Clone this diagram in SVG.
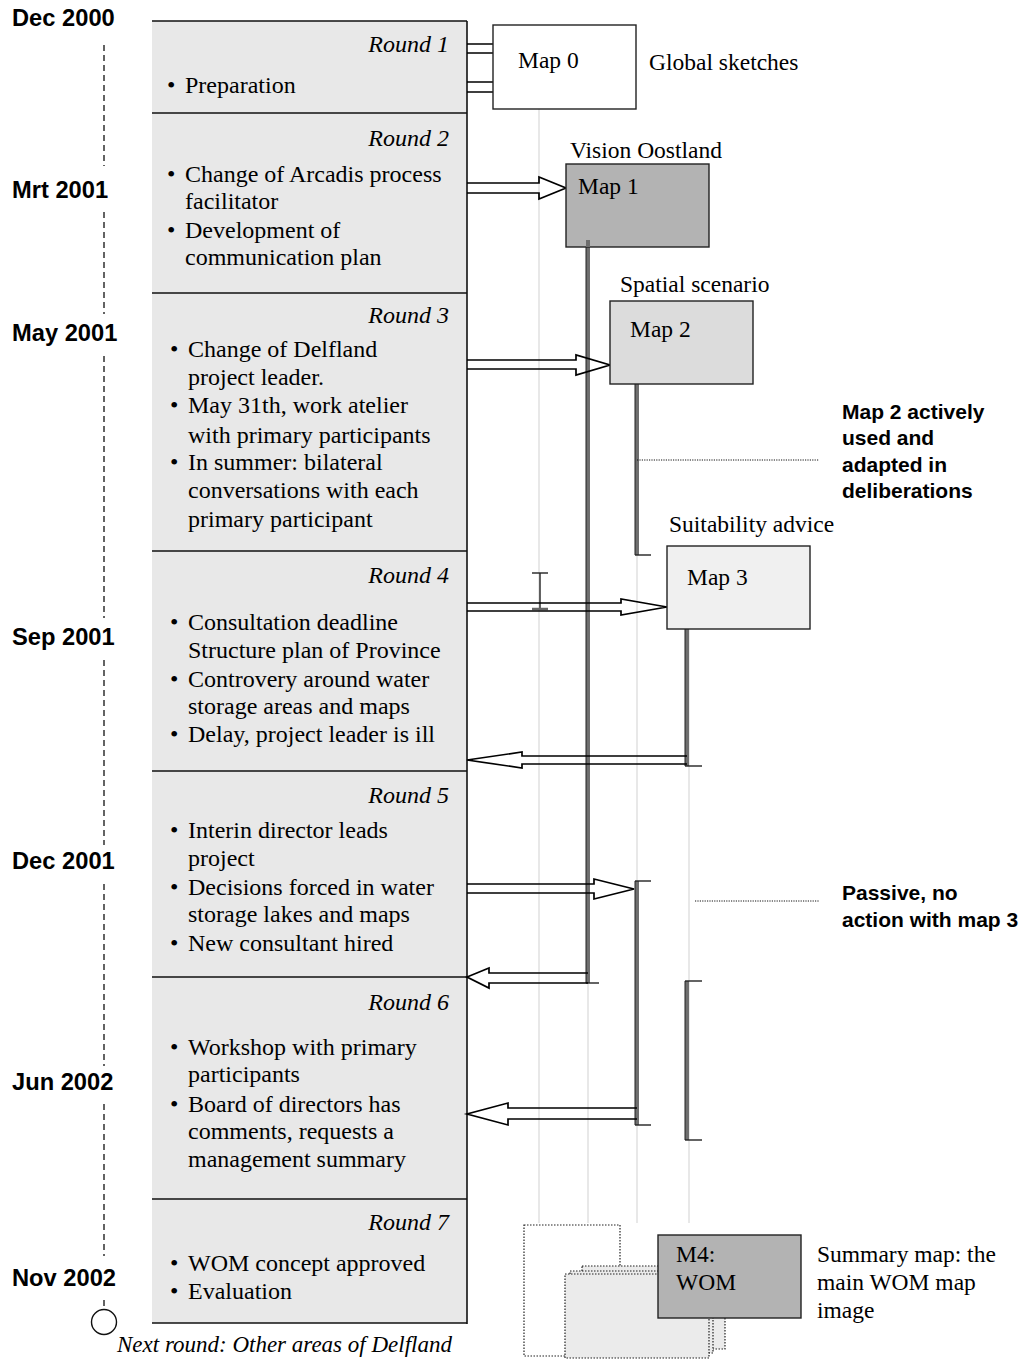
<svg xmlns="http://www.w3.org/2000/svg" width="1026" height="1367" viewBox="0 0 1026 1367">
<style>
.date{font-family:"Liberation Sans",Arial,sans-serif;font-weight:bold;font-size:23.7px;fill:#000}
.round{font-family:"Liberation Serif","Times New Roman",serif;font-style:italic;font-size:24px;text-anchor:end;fill:#000}
.item{font-family:"Liberation Serif","Times New Roman",serif;font-size:24px;fill:#000}
.lbl{font-family:"Liberation Serif","Times New Roman",serif;font-size:23.5px;fill:#000}
.note{font-family:"Liberation Sans",Arial,sans-serif;font-weight:bold;font-size:21px;fill:#000}
.sep{stroke:#111;stroke-width:1.6}
.dash{stroke:#222;stroke-width:1.4;stroke-dasharray:6 4;fill:none}
.faint{stroke:#dcdcdc;stroke-width:1.3}
.life{stroke:#6e6e6e;stroke-width:4}
.lifeedge{stroke:#222;stroke-width:1}
.tick{stroke:#222;stroke-width:1.4}
.arrow{fill:none;stroke:#000;stroke-width:1.7;stroke-linejoin:miter}
.box{stroke:#222;stroke-width:1.4}
.dot{stroke:#222;stroke-width:1.2;stroke-dasharray:1.5 1.5}
.dotline{stroke:#111;stroke-width:1;stroke-dasharray:1.2 1.2}
</style>

<g id="timeline">
  <text class="date" x="12" y="26">Dec 2000</text>
  <text class="date" x="12" y="198">Mrt 2001</text>
  <text class="date" x="12" y="341">May 2001</text>
  <text class="date" x="12" y="645">Sep 2001</text>
  <text class="date" x="12" y="869">Dec 2001</text>
  <text class="date" x="12" y="1090">Jun 2002</text>
  <text class="date" x="12" y="1286">Nov 2002</text>
  <path class="dash" d="M104,45V166 M104,212V314 M104,356V618 M104,660V845 M104,884V1066 M104,1104V1256 M104,1300V1310"/>
  <circle cx="104" cy="1322" r="12.5" fill="#fff" stroke="#111" stroke-width="1.4"/>
</g>

<g id="panel">
  <rect x="152" y="21" width="315" height="1302" fill="#e8e8e8"/>
  <line class="sep" x1="152" y1="21" x2="467" y2="21"/>
  <line class="sep" x1="152" y1="113" x2="467" y2="113"/>
  <line class="sep" x1="152" y1="293" x2="467" y2="293"/>
  <line class="sep" x1="152" y1="551" x2="467" y2="551"/>
  <line class="sep" x1="152" y1="771" x2="467" y2="771"/>
  <line class="sep" x1="152" y1="977" x2="467" y2="977"/>
  <line class="sep" x1="152" y1="1199" x2="467" y2="1199"/>
  <line class="sep" x1="152" y1="1323" x2="467" y2="1323"/>
  <line class="sep" x1="467" y1="21" x2="467" y2="1324"/>
</g>

<g id="round1">
  <text class="round" x="449" y="52">Round 1</text>
  <text class="item" x="167" y="93">•</text><text class="item" x="185" y="93">Preparation</text>
</g>
<g id="round2">
  <text class="round" x="449" y="146">Round 2</text>
  <text class="item" x="167" y="182">•</text><text class="item" x="185" y="182">Change of Arcadis process</text>
  <text class="item" x="185" y="209">facilitator</text>
  <text class="item" x="167" y="238">•</text><text class="item" x="185" y="238">Development of</text>
  <text class="item" x="185" y="265">communication plan</text>
</g>
<g id="round3">
  <text class="round" x="449" y="323">Round 3</text>
  <text class="item" x="170" y="357">•</text><text class="item" x="188" y="357">Change of Delfland</text>
  <text class="item" x="188" y="385">project leader.</text>
  <text class="item" x="170" y="413">•</text><text class="item" x="188" y="413">May 31th, work atelier</text>
  <text class="item" x="188" y="443">with primary participants</text>
  <text class="item" x="170" y="470">•</text><text class="item" x="188" y="470">In summer: bilateral</text>
  <text class="item" x="188" y="498">conversations with each</text>
  <text class="item" x="188" y="527">primary participant</text>
</g>
<g id="round4">
  <text class="round" x="449" y="583">Round 4</text>
  <text class="item" x="170" y="630">•</text><text class="item" x="188" y="630">Consultation deadline</text>
  <text class="item" x="188" y="658">Structure plan of Province</text>
  <text class="item" x="170" y="687">•</text><text class="item" x="188" y="687">Controvery  around water</text>
  <text class="item" x="188" y="714">storage areas and maps</text>
  <text class="item" x="170" y="742">•</text><text class="item" x="188" y="742">Delay, project leader is ill</text>
</g>
<g id="round5">
  <text class="round" x="449" y="803">Round 5</text>
  <text class="item" x="170" y="838">•</text><text class="item" x="188" y="838">Interin director leads</text>
  <text class="item" x="188" y="866">project</text>
  <text class="item" x="170" y="895">•</text><text class="item" x="188" y="895">Decisions forced in water</text>
  <text class="item" x="188" y="922">storage lakes and maps</text>
  <text class="item" x="170" y="951">•</text><text class="item" x="188" y="951">New consultant hired</text>
</g>
<g id="round6">
  <text class="round" x="449" y="1010">Round 6</text>
  <text class="item" x="170" y="1055">•</text><text class="item" x="188" y="1055">Workshop with primary</text>
  <text class="item" x="188" y="1082">participants</text>
  <text class="item" x="170" y="1112">•</text><text class="item" x="188" y="1112">Board of directors has</text>
  <text class="item" x="188" y="1139">comments, requests a</text>
  <text class="item" x="188" y="1167">management summary</text>
</g>
<g id="round7">
  <text class="round" x="449" y="1230">Round 7</text>
  <text class="item" x="170" y="1271">•</text><text class="item" x="188" y="1271">WOM concept approved</text>
  <text class="item" x="170" y="1299">•</text><text class="item" x="188" y="1299">Evaluation</text>
</g>
<g id="next-round">
  <text class="item" x="117" y="1352" style="font-style:italic;font-size:23px">Next round: Other areas of Delfland</text>
</g>

<g id="connectors">
  <line class="faint" x1="539" y1="106" x2="539" y2="1223"/>
  <line class="faint" x1="588" y1="247" x2="588" y2="1223"/>
  <line class="faint" x1="637" y1="384" x2="637" y2="1223"/>
  <line class="faint" x1="689" y1="629" x2="689" y2="1223"/>
  <line class="life" x1="588" y1="240" x2="588" y2="983"/>
  <line class="lifeedge" x1="586" y1="240" x2="586" y2="983"/>
  <line class="tick" x1="586" y1="983" x2="599" y2="983"/>
  <line class="life" x1="637" y1="383" x2="637" y2="555"/>
  <line class="lifeedge" x1="635" y1="383" x2="635" y2="555"/>
  <line class="tick" x1="635" y1="555" x2="651" y2="555"/>
  <line class="life" x1="687" y1="629" x2="687" y2="766"/>
  <line class="lifeedge" x1="685" y1="629" x2="685" y2="766"/>
  <line class="tick" x1="685" y1="766" x2="702" y2="766"/>
  <line class="life" x1="637" y1="881" x2="637" y2="1125"/>
  <line class="lifeedge" x1="635" y1="881" x2="635" y2="1125"/>
  <line class="tick" x1="635" y1="881" x2="651" y2="881"/>
  <line class="tick" x1="635" y1="1125" x2="651" y2="1125"/>
  <line class="life" x1="687" y1="981" x2="687" y2="1140"/>
  <line class="lifeedge" x1="685" y1="981" x2="685" y2="1140"/>
  <line class="tick" x1="685" y1="981" x2="702" y2="981"/>
  <line class="tick" x1="685" y1="1140" x2="702" y2="1140"/>
  <line class="tick" x1="540" y1="573" x2="540" y2="609"/>
  <line class="tick" x1="532" y1="573" x2="548" y2="573"/>
  <line stroke="#666" stroke-width="2.5" x1="532" y1="609" x2="548" y2="609"/>
  <path class="arrow" d="M467,44H493 M467,53H493 M467,82H493 M467,92H493"/>
  <path class="arrow" d="M467,183H539V177L566,188L539,199V193H467"/>
  <path class="arrow" d="M467,360H576V355L610,365L576,375V369H467"/>
  <path class="arrow" d="M467,603H621V599L667,607L621,615V611H467"/>
  <path class="arrow" d="M687,756H522V752L467,760L522,768V764H687"/>
  <path class="arrow" d="M467,884H594V879L634,889L594,899V893H467"/>
  <path class="arrow" d="M588,973H489V968L467,977L489,988V983H588"/>
  <path class="arrow" d="M637,1108H508V1103L467,1114L508,1125V1119H637"/>
  <line class="dotline" x1="637" y1="460" x2="819" y2="460"/>
  <line class="dotline" x1="695" y1="901" x2="819" y2="901"/>
</g>

<g id="map0">
  <rect class="box" x="493" y="25" width="143" height="84" fill="#fff"/>
  <text class="lbl" x="518" y="68">Map 0</text>
  <text class="lbl" x="649" y="70">Global sketches</text>
</g>
<g id="map1">
  <text class="lbl" x="570" y="158">Vision Oostland</text>
  <rect class="box" x="566" y="164" width="143" height="83" fill="#b3b3b3"/>
  <text class="lbl" x="578" y="194">Map 1</text>
  <line class="life" x1="588" y1="240" x2="588" y2="247"/>
</g>
<g id="map2">
  <text class="lbl" x="620" y="292">Spatial scenario</text>
  <rect class="box" x="610" y="301" width="143" height="83" fill="#dcdcdc"/>
  <text class="lbl" x="630" y="337">Map 2</text>
</g>
<g id="map3">
  <text class="lbl" x="669" y="532">Suitability advice</text>
  <rect class="box" x="667" y="546" width="143" height="83" fill="#f0f0f0"/>
  <text class="lbl" x="687" y="585">Map 3</text>
</g>
<g id="note-map2">
  <text class="note" x="842" y="419">Map 2 actively</text>
  <text class="note" x="842" y="445">used and</text>
  <text class="note" x="842" y="472">adapted in</text>
  <text class="note" x="842" y="498">deliberations</text>
</g>
<g id="note-passive">
  <text class="note" x="842" y="900">Passive, no</text>
  <text class="note" x="842" y="927">action with map 3</text>
</g>
<g id="map4">
  <rect class="dot" x="524" y="1225" width="96" height="131" fill="#fff"/>
  <rect class="dot" x="582" y="1266" width="143" height="83" fill="#ebebeb"/>
  <rect class="dot" x="570" y="1271" width="143" height="82" fill="#ebebeb"/>
  <rect class="dot" x="565" y="1274" width="144" height="84" fill="#ebebeb"/>
  <rect class="box" x="658" y="1235" width="143" height="83" fill="#b3b3b3"/>
  <text class="lbl" x="676" y="1262">M4:</text>
  <text class="lbl" x="676" y="1290">WOM</text>
  <text class="lbl" x="817" y="1262">Summary map: the</text>
  <text class="lbl" x="817" y="1290">main WOM map</text>
  <text class="lbl" x="817" y="1318">image</text>
</g>
</svg>
